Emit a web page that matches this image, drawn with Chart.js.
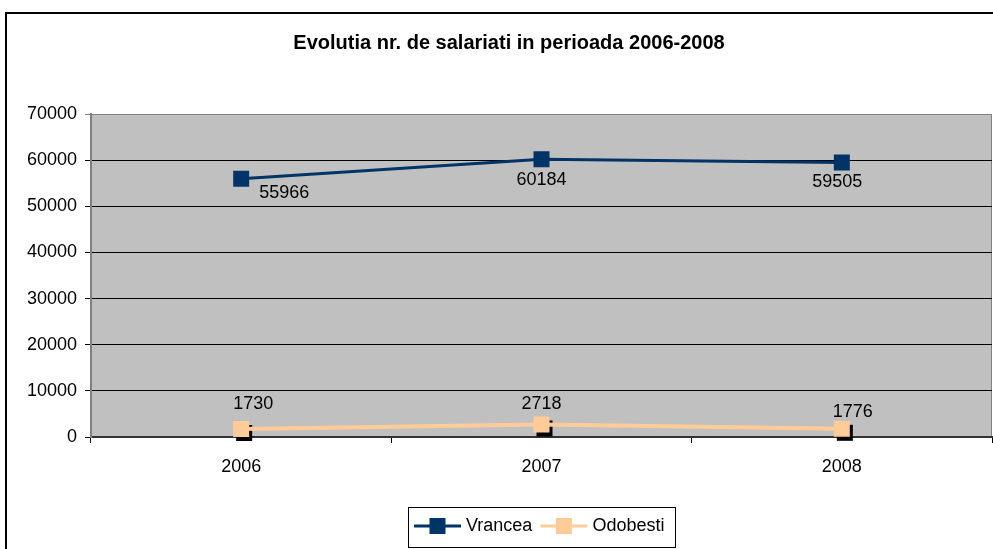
<!DOCTYPE html>
<html>
<head>
<meta charset="utf-8">
<script src="https://cdn.jsdelivr.net/npm/chart.js@4.4.1/dist/chart.umd.min.js"></script>
<style>
  html, body { margin: 0; padding: 0; background: #fff; }
  #wrap { width: 993px; height: 549px; }
</style>
</head>
<body>
<div id="wrap"><canvas id="chart" width="993" height="549"></canvas></div>
<script>
// datele graficului
const years = ['2006', '2007', '2008']
const vrancea = [55966, 60184, 59505]
const odobesti = [1730, 2718, 1776]
const yMin = 0
const yMax = 70000
const yStep = 10000

const FONT = "'Liberation Sans', Arial, sans-serif"

// pozitia etichetelor fata de punct (dx, dy)
const labelOffsets = [
  [[43, 14], [0, 21], [-4.5, 20]],
  [[12, -25], [0, -20.5], [11, -17]]
]

const framePlugin = {
  id: 'frame',
  beforeDraw(chart) {
    const ctx = chart.ctx
    const a = chart.chartArea
    ctx.save()
    ctx.fillStyle = '#fff'
    ctx.fillRect(0, 0, chart.width, chart.height)
    // chenarul exterior
    ctx.strokeStyle = '#000'
    ctx.lineWidth = 2
    ctx.strokeRect(6, 13, chart.width + 20, chart.height + 20)
    // fundalul zonei de desen
    ctx.fillStyle = '#c0c0c0'
    ctx.fillRect(a.left, a.top, a.right - a.left, a.bottom - a.top)
    ctx.strokeStyle = '#808080'
    ctx.lineWidth = 1
    ctx.beginPath()
    ctx.moveTo(a.right - 0.5, a.top)
    ctx.lineTo(a.right - 0.5, a.bottom)
    ctx.stroke()
    ctx.restore()
  }
}

// umbra neagra sub marcajele Odobesti
const shadowPlugin = {
  id: 'markerShadow',
  beforeDatasetDraw(chart, args) {
    if (args.index !== 1) return
    const ctx = chart.ctx
    ctx.save()
    ctx.fillStyle = '#000'
    args.meta.data.forEach(pt => {
      ctx.fillRect(pt.x - 8 + 3, pt.y - 8 + 4, 16, 16)
    })
    ctx.restore()
  }
}

const valueLabels = {
  id: 'valueLabels',
  afterDatasetsDraw(chart) {
    const ctx = chart.ctx
    ctx.save()
    ctx.font = '18px ' + FONT
    ctx.fillStyle = '#000'
    ctx.textAlign = 'center'
    ctx.textBaseline = 'middle'
    chart.data.datasets.forEach((ds, i) => {
      const meta = chart.getDatasetMeta(i)
      meta.data.forEach((pt, j) => {
        const off = labelOffsets[i][j]
        ctx.fillText(String(ds.data[j]), pt.x + off[0], pt.y + off[1])
      })
    })
    ctx.restore()
  }
}

// legenda cu chenar, desenata ca in Excel
const boxLegend = {
  id: 'boxLegend',
  afterDraw(chart) {
    const ctx = chart.ctx
    const cy = 526
    ctx.save()
    ctx.font = '18px ' + FONT
    ctx.strokeStyle = '#000'
    ctx.lineWidth = 1
    ctx.strokeRect(408.5, 507.5, 267, 40)
    let x = 414
    chart.data.datasets.forEach(ds => {
      ctx.strokeStyle = ds.borderColor
      ctx.lineWidth = 3
      ctx.beginPath()
      ctx.moveTo(x, cy)
      ctx.lineTo(x + 47, cy)
      ctx.stroke()
      ctx.fillStyle = ds.pointBackgroundColor
      ctx.fillRect(x + 23.5 - 8, cy - 8, 16, 16)
      ctx.fillStyle = '#000'
      ctx.textAlign = 'left'
      ctx.textBaseline = 'middle'
      ctx.fillText(ds.label, x + 52, cy)
      x += 52 + ctx.measureText(ds.label).width + 8
    })
    ctx.restore()
  }
}

const ctx = document.getElementById('chart').getContext('2d')
new Chart(ctx, {
  type: 'line',
  data: {
    labels: years,
    datasets: [{
      label: 'Vrancea',
      data: vrancea,
      borderColor: '#003366',
      backgroundColor: '#003366',
      pointBackgroundColor: '#003366',
      pointBorderColor: '#003366',
      borderWidth: 3,
      pointStyle: 'rect',
      pointRadius: 11.3,
      pointBorderWidth: 0,
      tension: 0
    }, {
      label: 'Odobesti',
      data: odobesti,
      borderColor: '#ffcc99',
      backgroundColor: '#ffcc99',
      pointBackgroundColor: '#ffcc99',
      pointBorderColor: '#ffcc99',
      borderWidth: 4,
      pointStyle: 'rect',
      pointRadius: 11.3,
      pointBorderWidth: 0,
      tension: 0
    }]
  },
  options: {
    responsive: false,
    animation: false,
    devicePixelRatio: 1,
    layout: { autoPadding: false, padding: { left: 26, right: 1, top: 0, bottom: 72 } },
    plugins: {
      legend: { display: false },
      tooltip: { enabled: false },
      title: {
        display: true,
        text: 'Evolutia nr. de salariati in perioada 2006-2008',
        color: '#000',
        font: { family: FONT, size: 20, weight: 'bold' },
        padding: { top: 31, bottom: 59 }
      }
    },
    scales: {
      x: {
        offset: true,
        grid: { offset: true, drawOnChartArea: false, drawTicks: true, tickLength: 6, color: '#000' },
        border: { display: true, color: '#333', width: 2 },
        ticks: { color: '#000', font: { family: FONT, size: 18 }, padding: 13 },
        afterFit(scale) { scale.height = 40 }
      },
      y: {
        min: yMin,
        max: yMax,
        ticks: {
          stepSize: yStep,
          color: '#000',
          font: { family: FONT, size: 18 },
          padding: 8,
          callback: v => String(v)
        },
        grid: {
          color: c => (c.tick && c.tick.value === yMax) ? '#808080' : '#000',
          lineWidth: 1,
          tickLength: 6
        },
        border: { display: true, color: '#808080', width: 2 },
        afterFit(scale) { scale.width = 65 }
      }
    }
  },
  plugins: [framePlugin, shadowPlugin, valueLabels, boxLegend]
})
</script>
</body>
</html>
